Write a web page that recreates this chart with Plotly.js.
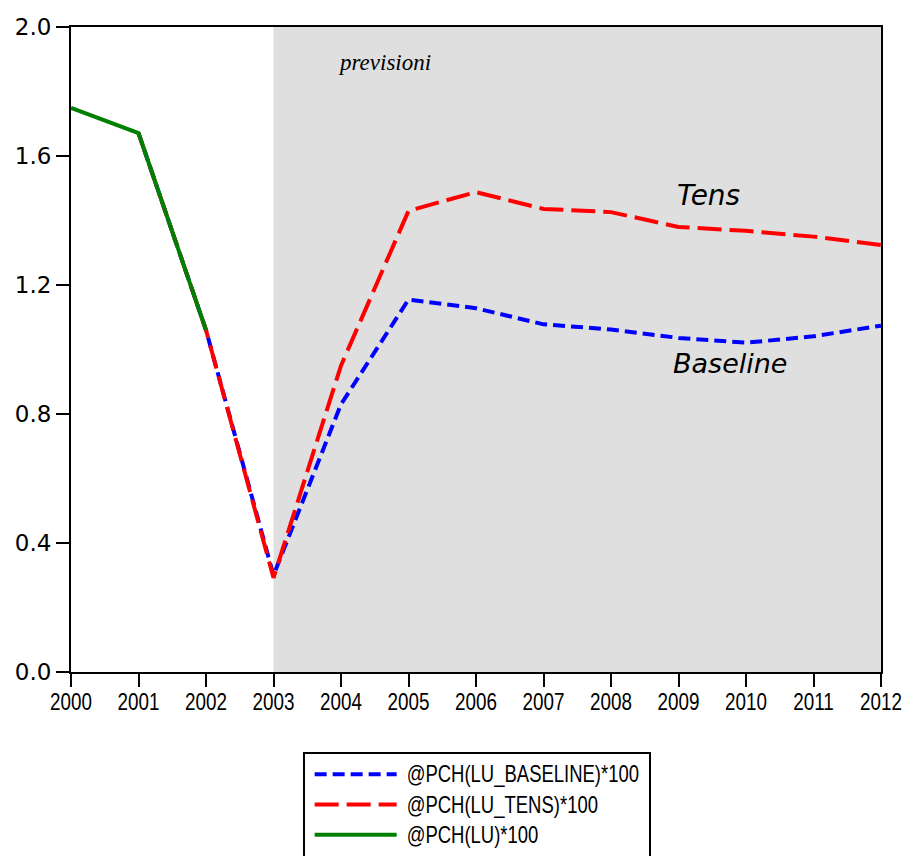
<!DOCTYPE html>
<html>
<head>
<meta charset="utf-8">
<script src="https://cdn.plot.ly/plotly-3.0.1.min.js"></script>
<style>html,body{margin:0;padding:0;background:#fff;}#chart{width:909px;height:856px;}</style>
</head>
<body>
<div id="chart"></div>
<script>
// Data
const yearsHist = [2000, 2001, 2002];
const luHist = [1.749, 1.671, 1.060];

const yearsFcst = [2001, 2002, 2003, 2004, 2005, 2006, 2007, 2008, 2009, 2010, 2011, 2012];
const luBaseline = [1.671, 1.060, 0.300, 0.830, 1.155, 1.128, 1.078, 1.062, 1.036, 1.021, 1.041, 1.074];
const luTens = [1.671, 1.060, 0.292, 0.950, 1.430, 1.488, 1.436, 1.426, 1.380, 1.368, 1.350, 1.324];

const xTicks = [2000, 2001, 2002, 2003, 2004, 2005, 2006, 2007, 2008, 2009, 2010, 2011, 2012];
const yTicks = [0.0, 0.4, 0.8, 1.2, 1.6, 2.0];
const seriesNames = ['@PCH(LU_BASELINE)*100', '@PCH(LU_TENS)*100', '@PCH(LU)*100'];
const forecastStart = 2003, forecastEnd = 2012;

const sans = '"Liberation Sans", Arial, sans-serif';

const traces = [
  {x: yearsFcst, y: luBaseline, name: seriesNames[0], mode: 'lines',
   line: {color: '#0000ff', width: 4, dash: '12px,6px'}},
  {x: yearsFcst, y: luTens, name: seriesNames[1], mode: 'lines',
   line: {color: '#ff0000', width: 4, dash: '24px,8px'}},
  {x: yearsHist, y: luHist, name: seriesNames[2], mode: 'lines',
   line: {color: '#008000', width: 4}}
];

const layout = {
  width: 909, height: 856,
  margin: {l: 71, r: 28, t: 27, b: 184, autoexpand: false},
  paper_bgcolor: '#ffffff', plot_bgcolor: '#ffffff',
  showlegend: true,
  legend: {
    x: 0.286, y: -0.124, xanchor: 'left', yanchor: 'top',
    bgcolor: '#ffffff', bordercolor: '#000000', borderwidth: 2,
    font: {family: sans, size: 21, color: '#000'},
    tracegroupgap: 0, itemwidth: 82
  },
  xaxis: {
    range: [2000, 2012], tickvals: xTicks, ticktext: xTicks.map(String),
    ticks: 'outside', ticklen: 13, tickwidth: 2, tickcolor: '#000',
    showline: true, linewidth: 2, linecolor: '#000', mirror: true,
    showgrid: false, zeroline: false, ticklabelstandoff: -6,
    tickfont: {family: sans, size: 24, color: '#000'}
  },
  yaxis: {
    range: [0, 2.0], tickvals: yTicks, tickformat: '.1f',
    ticks: 'outside', ticklen: 13, tickwidth: 2, tickcolor: '#000',
    showline: true, linewidth: 2, linecolor: '#000', mirror: true,
    showgrid: false, zeroline: false,
    tickfont: {family: '"DejaVu Sans", Verdana, sans-serif', size: 23, color: '#000'}
  },
  shapes: [
    {type: 'rect', xref: 'x', yref: 'paper', x0: forecastStart, x1: forecastEnd, y0: 0, y1: 1,
     fillcolor: '#dfdfdf', line: {width: 0}, layer: 'below'}
  ],
  annotations: [
    {x: 2004.65, y: 1.89, xref: 'x', yref: 'y', text: '<i>previsioni</i>', showarrow: false,
     font: {family: '"Liberation Serif", "Times New Roman", serif', size: 23, color: '#000'}},
    {x: 2009.45, y: 1.476, xref: 'x', yref: 'y', text: '<i>Tens</i>', showarrow: false,
     font: {family: '"DejaVu Sans", Verdana, sans-serif', size: 28, color: '#000'}},
    {x: 2009.76, y: 0.958, xref: 'x', yref: 'y', text: '<i>Baseline</i>', showarrow: false,
     font: {family: '"DejaVu Sans", Verdana, sans-serif', size: 27, color: '#000'}}
  ]
};

function condense(selector, factor) {
  document.querySelectorAll(selector).forEach(function (t) {
    const w = t.getComputedTextLength();
    t.setAttribute('textLength', (w * factor).toFixed(1));
    t.setAttribute('lengthAdjust', 'spacingAndGlyphs');
  });
}

function styleLegend() {
  const bg = document.querySelector('#chart .legend rect.bg');
  if (bg) {
    bg.setAttribute('width', '346');
    bg.setAttribute('height', String(parseFloat(bg.getAttribute('height')) + 12));
  }
  document.querySelectorAll('#chart .legend .legendtext').forEach(function (t) {
    t.style.fontSize = '24px';
    t.setAttribute('dx', '10');
  });
  condense('#chart .legend .legendtext', 0.77);
  document.querySelectorAll('#chart .legend path.js-line').forEach(function (p) {
    p.setAttribute('transform', 'translate(5,0)');
  });
}

Plotly.newPlot('chart', traces, layout, {displayModeBar: false, staticPlot: true}).then(function () {
  condense('#chart .xtick text', 0.785);
  styleLegend();
});
</script>
</body>
</html>
